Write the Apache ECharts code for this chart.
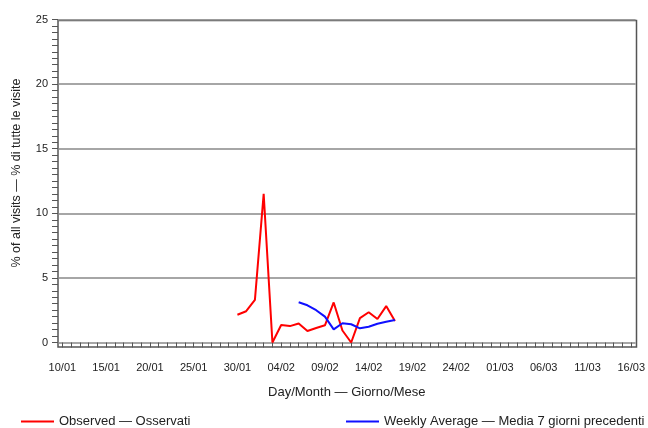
<!DOCTYPE html>
<html>
<head>
<meta charset="utf-8">
<script src="https://cdn.jsdelivr.net/npm/echarts@6/dist/echarts.min.js"></script>
<style>
  html, body { margin: 0; padding: 0; background: #fff; }
  #chart { width: 648px; height: 428px; }
</style>
</head>
<body>
<div id="chart"></div>
<script>
// day axis: 10/01 .. 16/03 (one category per day)
var startDay = [2021, 0, 10];
var dayCount = 66;

// observed, from 30/01 to 17/02
var observedStart = '30/01';
var observedValues = [2.15, 2.42, 3.3, 11.5, 0, 1.35, 1.27, 1.47, 0.89, 1.12,
  1.33, 3.1, 0.93, 0, 1.89, 2.34, 1.82, 2.82, 1.67];

// weekly average, from 06/02 to 17/02
var weeklyStart = '06/02';
var weeklyValues = [3.11, 2.88, 2.5, 2.0, 1.02, 1.49, 1.41, 1.1, 1.22, 1.45, 1.6, 1.74];

var yTicks = [0, 5, 10, 15, 20, 25];

function pad(n) { return (n < 10 ? '0' : '') + n; }

var days = [];
for (var i = 0; i < dayCount; i++) {
  var d = new Date(startDay[0], startDay[1], startDay[2] + i);
  days.push(pad(d.getDate()) + '/' + pad(d.getMonth() + 1));
}

function toPairs(start, values) {
  var s = days.indexOf(start);
  return values.map(function (v, k) { return [days[s + k], v]; });
}

var font = '"Liberation Sans", Arial, sans-serif';
var txt = '#222';

var chart = echarts.init(document.getElementById('chart'), null, { renderer: 'canvas' });
chart.setOption({
  animation: false,
  backgroundColor: '#fff',
  textStyle: { fontFamily: font },
  grid: [
    { left: 58, right: 11.5, top: 19.5, bottom: 85.5 },
    { left: 58, right: 11.5, top: 20.5, bottom: 81, show: true,
      borderColor: '#555', borderWidth: 1.5, backgroundColor: 'transparent' }
  ],
  legend: [
    { data: ['Observed — Osservati'], left: 16, top: 410, icon: 'rect',
      itemWidth: 33, itemHeight: 2, itemGap: 0,
      textStyle: { fontFamily: font, fontSize: 13, color: txt } },
    { data: ['Weekly Average — Media 7 giorni precedenti'], left: 341, top: 410, icon: 'rect',
      itemWidth: 33, itemHeight: 2, itemGap: 0,
      textStyle: { fontFamily: font, fontSize: 13, color: txt } }
  ],
  xAxis: [
    {
      type: 'category',
      gridIndex: 0,
      data: days,
      boundaryGap: true,
      offset: 5,
      name: 'Day/Month — Giorno/Mese',
      nameLocation: 'middle',
      nameGap: 38,
      nameTextStyle: { fontFamily: font, fontSize: 13, color: txt },
      axisLine: { show: false },
      axisTick: { show: true, interval: 0, alignWithLabel: true, length: 5,
        lineStyle: { color: '#555', width: 1 } },
      axisLabel: { interval: 4, margin: 15, fontFamily: font, fontSize: 11, color: txt },
      splitLine: { show: false }
    },
    { type: 'value', gridIndex: 1, show: false }
  ],
  yAxis: [
    {
      type: 'value',
      gridIndex: 0,
      min: yTicks[0],
      max: yTicks[yTicks.length - 1],
      interval: 5,
      name: '% of all visits — % di tutte le visite',
      nameLocation: 'middle',
      nameGap: 35,
      nameRotate: 90,
      nameTextStyle: { fontFamily: font, fontSize: 12.5, color: txt, padding: [0, 0, 0, 16] },
      axisLine: { show: false },
      axisTick: { show: true, length: 6, lineStyle: { color: '#555', width: 1 } },
      minorTick: { show: true, splitNumber: 10, length: 6, lineStyle: { color: '#555', width: 1 } },
      axisLabel: { margin: 10, fontFamily: font, fontSize: 11, color: txt },
      splitLine: { show: true, lineStyle: { color: '#888', width: 1.5 } }
    },
    { type: 'value', gridIndex: 1, show: false }
  ],
  series: [
    {
      name: 'Observed — Osservati',
      type: 'line',
      xAxisIndex: 0, yAxisIndex: 0,
      data: toPairs(observedStart, observedValues),
      showSymbol: false,
      symbol: 'none',
      itemStyle: { color: '#ff0000' },
      lineStyle: { color: '#ff0000', width: 2 }
    },
    {
      name: 'Weekly Average — Media 7 giorni precedenti',
      type: 'line',
      xAxisIndex: 0, yAxisIndex: 0,
      data: toPairs(weeklyStart, weeklyValues),
      showSymbol: false,
      symbol: 'none',
      itemStyle: { color: '#1010ff' },
      lineStyle: { color: '#1010ff', width: 2 }
    }
  ]
});
</script>
</body>
</html>
